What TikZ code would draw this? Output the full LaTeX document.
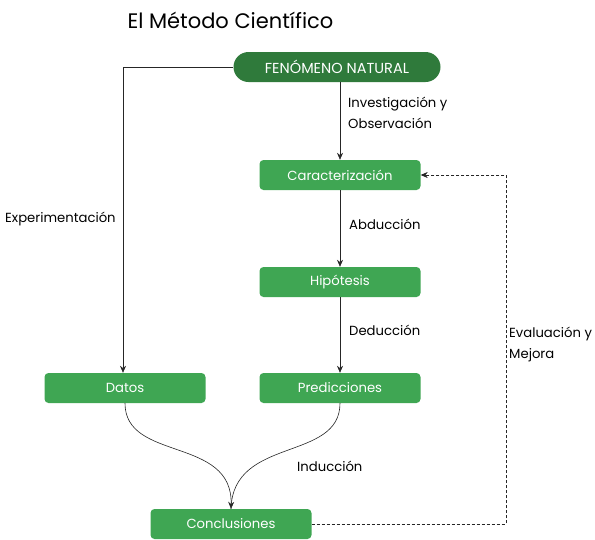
\documentclass[tikz,border=0pt]{standalone}
\usepackage{fontspec}
\setmainfont{Poppins}
\usetikzlibrary{arrows.meta}
\definecolor{verdeosc}{HTML}{2F7A3B}
\definecolor{verde}{HTML}{3FA653}
\tikzset{
  caja/.style={fill=verde, rounded corners=4pt, minimum width=161pt, minimum height=30pt, text=white, font=\fontsize{13.2}{15}\selectfont, inner sep=0pt},
  raiz/.style={fill=verdeosc, rounded corners=15pt, minimum width=207pt, minimum height=30pt, text=white, font=\fontsize{14.5}{16}\selectfont, inner sep=0pt},
  etiqueta/.style={font=\fontsize{13.2}{21}\selectfont, align=left, inner sep=0pt},
  flecha/.style={-{Stealth[length=7pt,width=6pt]}, line width=0.6pt, draw=black!85},
}
\begin{document}
\begin{tikzpicture}[x=1pt, y=-1pt, line join=round]
	\useasboundingbox (0,0) rectangle (595,539);
	% Título
	\node[anchor=west, font=\fontsize{21}{24}\selectfont] (titulo) at (124,20) {El Método Científico};
	
	% Cajas del método
	\node[raiz] (fenomeno) at (337,67) {FENÓMENO NATURAL};
	\node[caja] (caract) at (340,175) {Caracterización};
	\node[caja] (hipo) at (340,282) {Hipótesis};
	\node[caja] (pred) at (340,388) {Predicciones};
	\node[caja] (datos) at (125,388) {Datos};
	\node[caja] (concl) at (231,524) {Conclusiones};
	
	% Flechas principales
	\draw[flecha] (fenomeno.south -| caract) -- (caract.north);
	\draw[flecha] (caract) -- (hipo);
	\draw[flecha] (hipo) -- (pred);
	\coordinate (esq) at (123,67);
	\draw[flecha] (fenomeno.west) -- (esq) -- (esq |- datos.north);
	
	% Inducción
	\draw[flecha] (datos.south) .. controls (125,462) and (233,436) .. (concl.north);
	\draw[line width=0.6pt, draw=black!85] (pred.south) .. controls (340,462) and (233,436) .. (concl.north);
	
	% Retroalimentación
	\coordinate (vuelta) at (506,524);
	\draw[flecha, dashed, dash pattern=on 3pt off 2pt] (concl.east) -- (vuelta) -- (vuelta |- caract) -- (caract.east);
	
	% Etiquetas
	\node[etiqueta, anchor=north west] (invest) at (348,97) {Investigación y\\Observación};
	\node[etiqueta, anchor=west] (abduc) at (349,224) {Abducción};
	\node[etiqueta, anchor=west] (deduc) at (349,330) {Deducción};
	\node[etiqueta, anchor=west] (induc) at (297,466) {Inducción};
	\node[etiqueta, anchor=west] (exper) at (5,219) {Experimentación};
	\node[etiqueta, anchor=north west] (evalua) at (509,327) {Evaluación y\\Mejora};
\end{tikzpicture}
\end{document}
